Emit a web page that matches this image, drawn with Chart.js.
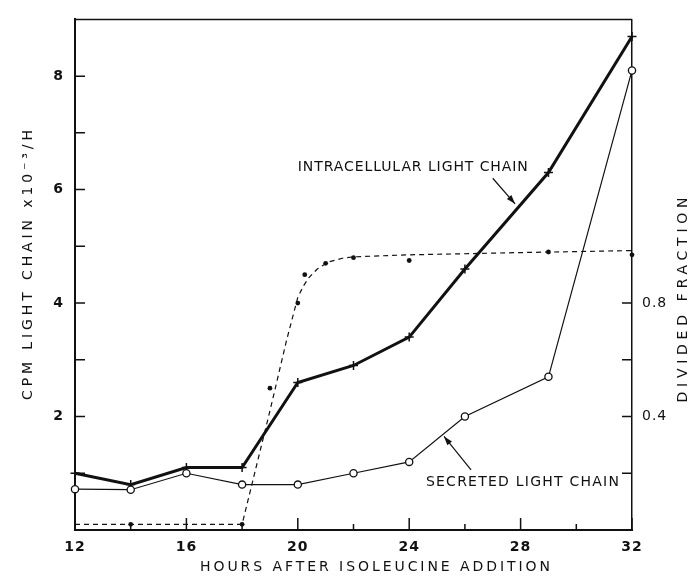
<!DOCTYPE html>
<html>
<head>
<meta charset="utf-8">
<script src="https://cdn.jsdelivr.net/npm/chart.js@4/dist/chart.umd.min.js"></script>
<style>
  html, body { margin: 0; padding: 0; background: #fff; }
  #wrap { width: 695px; height: 582px; }
</style>
</head>
<body>
<div id="wrap"><canvas id="chart"></canvas></div>
<script>
// values
const hours = [12, 14, 16, 18, 20, 22, 24, 26, 29, 32];
const intracellular = [1.0, 0.8, 1.1, 1.1, 2.6, 2.9, 3.4, 4.6, 6.3, 8.7];
const secreted = [0.72, 0.71, 1.0, 0.8, 0.8, 1.0, 1.2, 2.0, 2.7, 8.1];

// divided fraction (right axis): measured points and the hand-drawn dashed curve
const divHours = [14, 18, 19, 20, 20.25, 21, 22, 24, 29, 32];
const divFraction = [0.02, 0.02, 0.5, 0.8, 0.9, 0.94, 0.96, 0.95, 0.98, 0.97];
const curveHours = [12, 18, 19, 19.6, 20, 20.2, 20.4, 20.7, 21.1, 21.6, 22, 24, 28, 32];
const curveFraction = [0.02, 0.02, 0.42, 0.67, 0.82, 0.86, 0.89, 0.92, 0.945, 0.958, 0.963, 0.97, 0.978, 0.985];

// axes
const xLabels = [12, 16, 20, 24, 28, 32];
const xMinor = [14, 18, 22, 26, 30];
const yLabels = [2, 4, 6, 8];
const yTickMarks = [1, 2, 3, 4, 5, 6, 7, 8];
const y1Labels = [0.4, 0.8];
const y1TickMarks = [0.2, 0.4, 0.6, 0.8];

const INK = '#111';
const TEXT_FONT = '14px "DejaVu Sans"';

function pts(xs, ys) {
    return xs.map((x, i) => ({ x: x, y: ys[i] }));
}

// draw text stretched to a given width with letter spacing
function spacedText(ctx, text, x, y, width, angle, align) {
    ctx.save();
    ctx.font = TEXT_FONT;
    ctx.letterSpacing = '0px';
    const w0 = ctx.measureText(text).width;
    const sp = (width - w0) / (text.length - 1);
    ctx.letterSpacing = sp + 'px';
    ctx.translate(x, y);
    ctx.rotate(angle);
    ctx.fillStyle = INK;
    ctx.textAlign = 'left';
    ctx.textBaseline = 'middle';
    ctx.fillText(text, align === 'center' ? -width / 2 : 0, 0);
    ctx.restore();
}

function arrow(ctx, x0, y0, x1, y1) {
    const ang = Math.atan2(y1 - y0, x1 - x0);
    ctx.beginPath();
    ctx.moveTo(x0, y0);
    ctx.lineTo(x1, y1);
    ctx.stroke();
    ctx.beginPath();
    ctx.moveTo(x1, y1);
    ctx.lineTo(x1 - 9 * Math.cos(ang) + 3 * Math.sin(ang), y1 - 9 * Math.sin(ang) - 3 * Math.cos(ang));
    ctx.lineTo(x1 - 9 * Math.cos(ang) - 3 * Math.sin(ang), y1 - 9 * Math.sin(ang) + 3 * Math.cos(ang));
    ctx.closePath();
    ctx.fill();
}

const framePlugin = {
    id: 'frame',
    beforeDraw(chart) {
        chart.ctx.letterSpacing = '1px';
    },
    afterDraw(chart) {
        const ctx = chart.ctx;
        const a = chart.chartArea;
        const x = chart.scales.x, y = chart.scales.y, y1 = chart.scales.y1;
        ctx.save();
        ctx.strokeStyle = INK;
        ctx.fillStyle = INK;
        ctx.lineWidth = 1.5;

        // top border
        ctx.beginPath();
        ctx.moveTo(a.left, a.top);
        ctx.lineTo(a.right, a.top);
        ctx.stroke();

        // inward tick marks
        ctx.beginPath();
        xLabels.forEach(v => {
            const px = x.getPixelForValue(v);
            ctx.moveTo(px, a.bottom);
            ctx.lineTo(px, a.bottom - 12);
        });
        xMinor.forEach(v => {
            const px = x.getPixelForValue(v);
            ctx.moveTo(px, a.bottom);
            ctx.lineTo(px, a.bottom - 6);
        });
        yTickMarks.forEach(v => {
            const py = y.getPixelForValue(v);
            ctx.moveTo(a.left, py);
            ctx.lineTo(a.left + 10, py);
        });
        y1TickMarks.forEach(v => {
            const py = y1.getPixelForValue(v);
            ctx.moveTo(a.right, py);
            ctx.lineTo(a.right - 10, py);
        });
        ctx.stroke();

        // axis titles
        spacedText(ctx, 'HOURS AFTER ISOLEUCINE ADDITION', 375, 567, 350, 0, 'center');
        spacedText(ctx, 'CPM LIGHT CHAIN x10\u207B\u00B3/H', 28, 265, 270, -Math.PI / 2, 'center');
        spacedText(ctx, 'DIVIDED FRACTION', 683, 300, 205, -Math.PI / 2, 'center');

        // curve labels with arrows
        spacedText(ctx, 'INTRACELLULAR LIGHT CHAIN', x.getPixelForValue(20.0), y.getPixelForValue(6.4), 230, 0, 'left');
        spacedText(ctx, 'SECRETED LIGHT CHAIN', x.getPixelForValue(24.6), y.getPixelForValue(0.84), 193, 0, 'left');
        ctx.lineWidth = 1.2;
        arrow(ctx, x.getPixelForValue(27.0), y.getPixelForValue(6.2), x.getPixelForValue(27.8), y.getPixelForValue(5.75));
        arrow(ctx, x.getPixelForValue(26.22), y.getPixelForValue(1.06), x.getPixelForValue(25.25), y.getPixelForValue(1.65));

        ctx.restore();
    }
};

const tickFont = { family: 'DejaVu Sans', size: 14, weight: 'bold' };

new Chart(document.getElementById('chart'), {
    type: 'line',
    data: {
        datasets: [
            {
                label: 'divided fraction curve',
                data: pts(curveHours, curveFraction),
                yAxisID: 'y1',
                borderColor: INK,
                borderWidth: 1.2,
                borderDash: [5, 4],
                pointRadius: 0,
                tension: 0
            },
            {
                label: 'divided fraction',
                data: pts(divHours, divFraction),
                yAxisID: 'y1',
                showLine: false,
                pointStyle: 'circle',
                pointRadius: 2.4,
                pointBackgroundColor: INK,
                pointBorderColor: INK,
                pointBorderWidth: 0
            },
            {
                label: 'Secreted light chain',
                data: pts(hours, secreted),
                yAxisID: 'y',
                borderColor: INK,
                borderWidth: 1.2,
                pointStyle: 'circle',
                pointRadius: 3.6,
                pointBackgroundColor: '#fff',
                pointBorderColor: INK,
                pointBorderWidth: 1.3,
                tension: 0
            },
            {
                label: 'Intracellular light chain',
                data: pts(hours, intracellular),
                yAxisID: 'y',
                borderColor: INK,
                borderWidth: 3,
                pointStyle: 'cross',
                pointRadius: 4.5,
                pointBorderColor: INK,
                pointBorderWidth: 1.5,
                tension: 0
            }
        ]
    },
    options: {
        responsive: true,
        maintainAspectRatio: false,
        animation: false,
        clip: false,
        layout: { padding: { top: 14, left: 0, right: 0, bottom: 0 } },
        plugins: {
            legend: { display: false },
            title: { display: false },
            tooltip: { enabled: false }
        },
        scales: {
            x: {
                type: 'linear',
                min: 12,
                max: 32,
                afterBuildTicks: s => { s.ticks = xLabels.map(v => ({ value: v })); },
                afterFit: s => { s.height = 52; },
                grid: { drawOnChartArea: false, drawTicks: false },
                border: { display: true, color: INK, width: 2 },
                ticks: { color: INK, font: tickFont, padding: 9, maxRotation: 0 }
            },
            y: {
                position: 'left',
                min: 0,
                max: 9,
                afterBuildTicks: s => { s.ticks = yLabels.map(v => ({ value: v })); },
                afterFit: s => { s.width = 75; },
                grid: { drawOnChartArea: false, drawTicks: false },
                border: { display: true, color: INK, width: 2 },
                ticks: { color: INK, font: tickFont, padding: 11 }
            },
            y1: {
                position: 'right',
                min: 0,
                max: 1.8,
                afterBuildTicks: s => { s.ticks = y1Labels.map(v => ({ value: v })); },
                afterFit: s => { s.width = 63; },
                grid: { drawOnChartArea: false, drawTicks: false },
                border: { display: true, color: INK, width: 1.5 },
                ticks: {
                    color: INK,
                    font: { family: 'DejaVu Sans', size: 14 },
                    padding: 10,
                    callback: v => v.toFixed(1)
                }
            }
        }
    },
    plugins: [framePlugin]
});
</script>
</body>
</html>
